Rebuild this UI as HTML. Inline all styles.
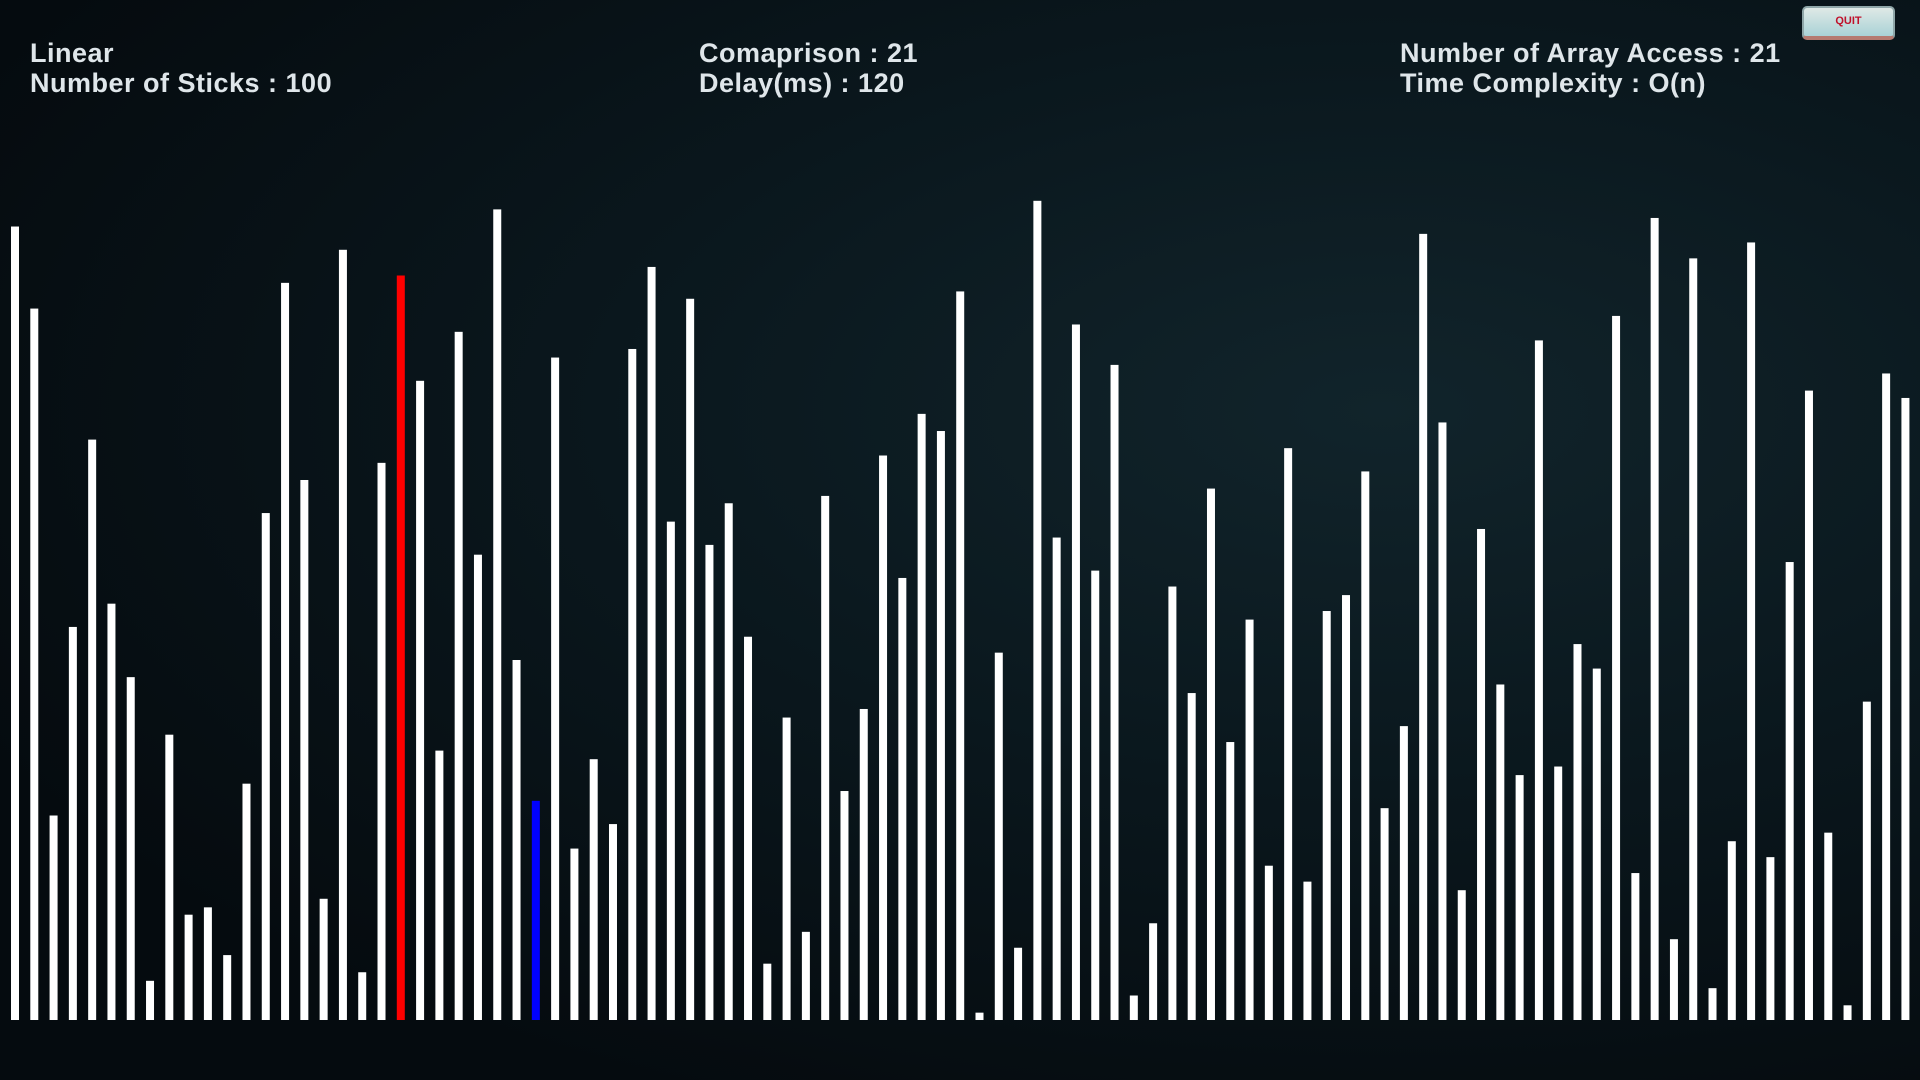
<!DOCTYPE html>
<html><head><meta charset="utf-8">
<style>
html,body{margin:0;padding:0;width:1920px;height:1080px;overflow:hidden;background:#050d12;}
#bg{position:absolute;left:0;top:0;width:1920px;height:1080px;background:radial-gradient(ellipse at 72% 38%,#11242b 0%,#0a171d 40%,#050b0f 80%);}
.txt{position:absolute;color:#dfe6ea;font-family:"Liberation Sans",sans-serif;font-weight:bold;font-size:27px;line-height:30px;white-space:nowrap;letter-spacing:0.5px;}
#quit{position:absolute;left:1802px;top:6px;width:93px;height:34px;border-radius:5px;background:linear-gradient(#dfe9e6,#a9d2d6);border:2px solid #8fa6a8;border-bottom:4px solid #b57a70;box-sizing:border-box;color:#c0102a;font-family:"Liberation Sans",sans-serif;font-weight:bold;font-size:11px;text-align:center;line-height:26px;}
</style></head><body>
<div id="bg"></div>
<div class="txt" style="left:30px;top:38px">Linear<br>Number of Sticks : 100</div>
<div class="txt" style="left:699px;top:38px">Comaprison : 21<br>Delay(ms) : 120</div>
<div class="txt" style="left:1400px;top:38px">Number of Array Access : 21<br>Time Complexity : O(n)</div>
<div id="quit">QUIT</div>
<svg id="chart" width="1920" height="1080" style="position:absolute;left:0;top:0"></svg>
<script>
const heights=[648,581,167,321,474,340,280,32,233,86,92,53,193,414,602,441,99,629,39,455,608,522,220,562,380,662,294,179,541,140,213,160,548,615,407,589,388,422,313,46,247,72,428,187,254,461,361,495,481,595,6,300,59,669,394,568,367,535,20,79,354,267,434,227,327,126,467,113,334,347,448,173,240,642,488,106,401,274,200,555,207,307,287,575,120,655,66,622,26,146,635,133,374,514,153,12,260,528,508];
const colors={20:'#ff0000',27:'#0000ff'};
const svg=document.getElementById('chart');
const NS='http://www.w3.org/2000/svg';
const baseY=1020, scaleY=1.2245, x0=11, step=19.29, bw=8;
function xPos(i){return x0+step*i;}
function yLen(v){return v*scaleY;}
heights.forEach((v,i)=>{
  const r=document.createElementNS(NS,'rect');
  r.setAttribute('x',xPos(i));
  r.setAttribute('y',baseY-yLen(v));
  r.setAttribute('width',bw);
  r.setAttribute('height',yLen(v));
  r.setAttribute('fill',colors[i]||'#ffffff');
  
  
  svg.appendChild(r);
});
</script>
</body></html>
